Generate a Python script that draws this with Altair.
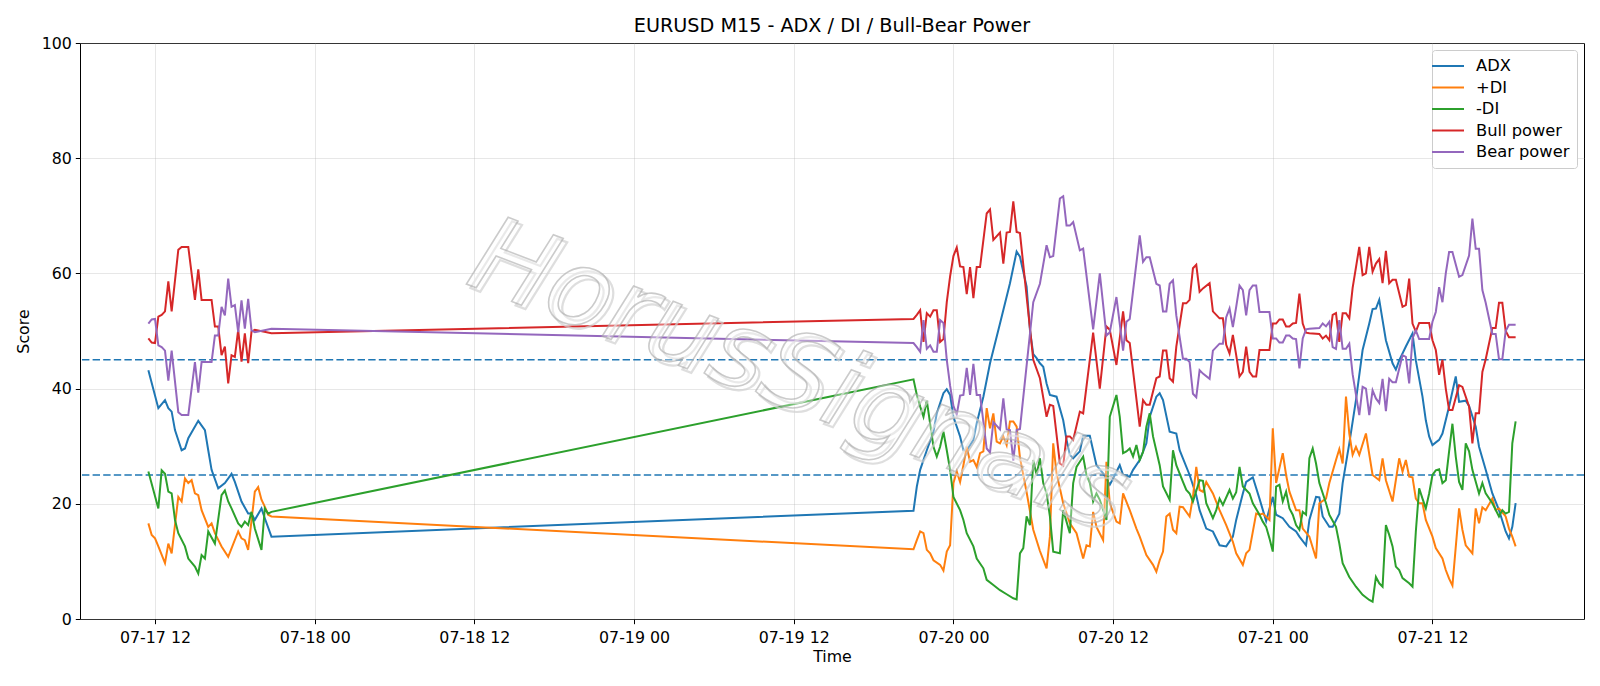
import altair as alt
import pandas as pd

BASE = pd.Timestamp("2025-07-17 00:00:00")
SERIES = ["ADX", "+DI", "-DI", "Bull power", "Bear power"]
COLORS = ["#1f77b4", "#ff7f0e", "#2ca02c", "#d62728", "#9467bd"]
TICK_HOURS = [12, 24, 36, 48, 60, 72, 84, 96, 108]
Y_TICKS = [0, 20, 40, 60, 80, 100]
LEVELS = [45, 25]
TITLE = "EURUSD M15 - ADX / DI / Bull-Bear Power"
WATERMARK = ["HorusSignals"]

# (hours since 07-17 00:00, value)
ADX = [
    (11.5, 43.2), (12.25, 36.6), (12.75, 38.0), (13.0, 36.6), (13.25, 36.0), (13.5, 32.8), (14.0, 29.3), (14.25, 29.6),
    (14.5, 31.4), (15.25, 34.4), (15.75, 32.8), (16.0, 29.3), (16.25, 25.9), (16.75, 22.7), (17.25, 23.6), (17.75, 25.2),
    (18.0, 23.8), (18.5, 20.4), (19.0, 18.3), (19.25, 18.3), (19.5, 17.2), (20.0, 19.2), (20.25, 17.5), (20.75, 14.3),
    (69.0, 18.8), (69.25, 23.0), (69.5, 25.9), (70.0, 29.3), (70.5, 32.5), (70.75, 35.7), (71.25, 39.2), (71.5, 39.9), (71.75, 38.9), (72.0, 35.1),
    (72.5, 31.7), (72.75, 29.3), (73.0, 29.3), (73.5, 31.1), (73.75, 34.0), (74.25, 38.6), (74.75, 44.4), (75.5, 51.3), (76.25, 58.3), (76.75, 63.8),
    (77.0, 62.9), (77.5, 57.7), (77.75, 50.2), (78.0, 46.0), (78.25, 45.3), (78.5, 44.4), (78.75, 43.8), (79.0, 40.9), (79.25, 38.9), (79.75, 38.6),
    (80.25, 34.5), (80.5, 31.1), (80.75, 28.5), (81.0, 27.9), (81.5, 29.1), (81.75, 31.8), (82.25, 31.8), (82.75, 26.7), (83.25, 25.3), (83.75, 23.3),
    (84.0, 24.4), (84.5, 26.7), (84.75, 25.0), (85.25, 24.7), (85.5, 25.9), (86.0, 27.6), (86.5, 30.5), (86.75, 35.1), (87.25, 38.6), (87.5, 39.2),
    (87.75, 38.0), (88.25, 32.5), (88.75, 32.2), (89.0, 29.3), (89.75, 25.0), (90.25, 21.5), (90.5, 18.9), (91.0, 15.7), (91.5, 15.2), (92.0, 12.8),
    (92.5, 12.6), (93.0, 14.3), (93.25, 17.2), (93.75, 21.8), (94.0, 23.8), (94.5, 24.6), (95.0, 20.9), (95.5, 17.0), (96.0, 21.2), (96.25, 18.1),
    (96.75, 17.5), (97.25, 16.0), (97.75, 15.2), (98.0, 14.3), (98.5, 12.8), (98.75, 17.2), (99.25, 21.2), (99.5, 21.1), (99.75, 17.8), (100.25, 16.0),
    (100.5, 16.0), (101.0, 18.3), (101.25, 23.6), (101.75, 30.5), (102.25, 38.0), (102.75, 46.7), (103.25, 51.3), (103.5, 53.8), (103.75, 53.9), (104.0, 55.4),
    (104.25, 51.9), (104.5, 48.4), (105.0, 44.4), (105.25, 43.3), (105.5, 44.9), (106.0, 47.3), (106.5, 49.6), (106.75, 44.9), (107.25, 38.6), (107.5, 34.5),
    (107.75, 31.7), (108.0, 30.2), (108.5, 31.1), (108.75, 32.2), (109.25, 36.9), (109.75, 42.1), (110.0, 37.7), (110.5, 37.9), (110.75, 37.0), (111.25, 33.4),
    (111.5, 29.9), (112.0, 25.9), (112.5, 21.8), (113.0, 18.9), (113.5, 15.2), (113.75, 14.0), (114.0, 16.0), (114.25, 20.1),
]

PLUS_DI = [
    (11.5, 16.6), (11.75, 14.6), (12.0, 14.0), (12.25, 12.6), (12.75, 9.7), (13.0, 13.1), (13.25, 11.4), (13.75, 21.2),
    (14.0, 20.4), (14.25, 24.4), (14.5, 23.6), (14.75, 24.1), (15.0, 21.8), (15.25, 21.5), (15.5, 18.9), (16.0, 16.0),
    (16.25, 16.6), (16.5, 14.9), (17.0, 12.6), (17.5, 10.8), (18.25, 15.2), (18.5, 14.0), (18.75, 13.7), (19.0, 12.0),
    (19.5, 22.1), (19.75, 22.9), (20.0, 20.7), (20.25, 19.5), (20.5, 18.1), (20.75, 17.8),
    (69.0, 12.1), (69.25, 13.7), (69.5, 15.2), (69.75, 14.9), (70.0, 12.0), (70.25, 11.4), (70.5, 10.2), (71.0, 9.4), (71.25, 8.4), (71.5, 11.7),
    (71.75, 12.8), (72.0, 23.6), (72.25, 25.6), (72.5, 23.8), (72.75, 26.7), (73.0, 29.9), (73.25, 27.3), (73.5, 27.6), (73.75, 26.4), (74.0, 28.8),
    (74.25, 29.1), (74.5, 36.6), (74.75, 33.1), (75.0, 35.7), (75.25, 30.8), (75.5, 30.5), (75.75, 31.7), (76.0, 30.2), (76.25, 34.3), (76.5, 34.3),
    (76.75, 33.4), (77.0, 28.0), (77.5, 22.0), (78.0, 15.5), (78.5, 11.8), (79.0, 8.8), (79.25, 14.3), (79.5, 30.5), (79.75, 25.3), (80.25, 20.1),
    (80.75, 16.6), (81.25, 14.9), (81.75, 10.5), (82.0, 12.8), (82.25, 12.6), (82.5, 18.6), (82.75, 16.0), (83.25, 13.7), (83.5, 27.3), (83.75, 20.1),
    (84.25, 16.9), (84.5, 16.6), (84.75, 21.8), (85.25, 18.9), (85.75, 15.7), (86.0, 14.3), (86.5, 11.1), (87.0, 9.4), (87.25, 8.2), (87.5, 10.2),
    (87.75, 11.7), (88.0, 17.8), (88.25, 18.3), (88.5, 15.5), (88.75, 14.9), (89.0, 19.5), (89.25, 19.4), (89.75, 17.8), (90.0, 21.2), (90.25, 26.4),
    (90.5, 22.4), (90.75, 22.1), (91.0, 23.8), (91.5, 21.8), (92.0, 18.9), (92.5, 16.3), (93.0, 13.4), (93.25, 11.4), (93.75, 9.4), (94.0, 11.4),
    (94.25, 12.0), (94.75, 18.3), (95.0, 18.1), (95.25, 18.3), (95.75, 17.2), (96.0, 33.1), (96.25, 23.6), (96.75, 28.8), (97.0, 25.0), (97.25, 22.1),
    (97.75, 18.9), (98.0, 18.9), (98.25, 15.7), (98.75, 14.3), (99.25, 10.5), (99.5, 20.1), (100.0, 20.9), (100.25, 23.6), (100.75, 27.6), (101.0, 29.5),
    (101.25, 27.0), (101.5, 38.6), (101.75, 32.2), (102.0, 28.5), (102.25, 29.9), (102.5, 28.5), (103.0, 32.2), (103.5, 25.0), (104.0, 24.1), (104.25, 27.9),
    (104.5, 24.1), (105.0, 20.4), (105.5, 27.9), (105.75, 25.6), (106.0, 27.6), (106.25, 24.7), (106.5, 24.6), (106.75, 20.9), (107.0, 20.1), (107.25, 20.1),
    (107.5, 17.2), (108.0, 14.3), (108.25, 12.3), (108.75, 10.5), (109.0, 8.5), (109.25, 7.0), (109.5, 5.8), (110.0, 19.2), (110.25, 15.5), (110.5, 12.8),
    (111.0, 11.4), (111.25, 19.2), (111.5, 16.6), (111.75, 19.4), (112.0, 18.9), (112.5, 20.9), (112.75, 18.9), (113.0, 19.2), (113.5, 17.8), (113.75, 15.7),
    (114.0, 14.3), (114.25, 12.6),
]

MINUS_DI = [
    (11.5, 25.6), (12.25, 19.2), (12.5, 25.8), (12.75, 25.2), (13.0, 22.1), (13.25, 21.8), (13.5, 17.2), (13.75, 14.9),
    (14.25, 12.6), (14.5, 10.5), (15.0, 9.1), (15.25, 7.9), (15.5, 11.1), (15.75, 10.5), (16.0, 15.2), (16.5, 13.1),
    (17.0, 21.5), (17.25, 22.3), (17.5, 20.4), (17.75, 19.2), (18.25, 16.6), (18.5, 16.0), (18.75, 16.9), (19.0, 16.3),
    (19.25, 18.6), (19.5, 15.7), (20.0, 12.0), (20.25, 19.2), (20.5, 18.3), (20.75, 18.6),
    (69.0, 41.6), (69.25, 38.9), (69.5, 36.9), (69.75, 35.1), (70.0, 37.9), (70.5, 29.9), (70.75, 28.2), (71.0, 29.9), (71.25, 32.5), (71.5, 29.3),
    (71.75, 25.9), (72.0, 21.2), (72.5, 18.9), (72.75, 17.2), (73.0, 14.9), (73.5, 12.6), (73.75, 10.5), (74.25, 8.8), (74.5, 6.8), (75.0, 5.9),
    (75.5, 5.0), (76.0, 4.3), (76.5, 3.6), (76.75, 3.4), (77.0, 11.4), (77.25, 12.3), (77.5, 17.8), (77.75, 16.3), (78.0, 27.6), (78.25, 25.0),
    (78.5, 27.9), (78.75, 23.6), (79.0, 21.8), (79.25, 17.8), (79.5, 11.7), (80.0, 11.4), (80.25, 18.9), (80.75, 14.9), (81.0, 23.6), (81.25, 26.4),
    (81.75, 28.2), (82.0, 25.0), (82.25, 23.6), (82.5, 20.4), (82.75, 21.8), (83.0, 20.7), (83.5, 17.2), (83.75, 35.1), (84.25, 38.9), (84.5, 35.1),
    (84.75, 28.8), (85.0, 29.1), (85.25, 29.6), (85.5, 28.2), (85.75, 30.2), (86.0, 27.6), (86.25, 29.0), (86.5, 33.4), (86.75, 35.7), (87.0, 31.7),
    (87.5, 26.7), (87.75, 23.0), (88.25, 20.7), (88.5, 29.3), (88.75, 26.7), (89.25, 23.8), (89.5, 22.4), (89.75, 21.8), (90.0, 20.4), (90.5, 24.1),
    (90.75, 24.0), (91.0, 20.1), (91.5, 17.5), (91.75, 18.9), (92.0, 20.9), (92.25, 19.8), (92.75, 22.4), (93.0, 20.9), (93.25, 22.0), (93.5, 26.4),
    (93.75, 23.0), (94.25, 21.8), (94.5, 20.1), (95.0, 18.1), (95.25, 16.9), (95.5, 16.0), (95.75, 14.0), (96.0, 11.7), (96.25, 23.0), (96.5, 23.3),
    (96.75, 20.4), (97.0, 22.1), (97.25, 19.2), (97.5, 18.1), (97.75, 16.3), (98.0, 15.5), (98.25, 18.6), (98.5, 18.1), (98.75, 27.9), (99.0, 29.6),
    (99.25, 27.0), (99.5, 23.6), (100.0, 20.1), (100.25, 18.1), (100.75, 16.0), (101.0, 13.1), (101.25, 9.7), (101.75, 7.3), (102.25, 5.6), (102.75, 4.2),
    (103.25, 3.3), (103.5, 3.0), (103.75, 7.3), (104.0, 6.2), (104.25, 5.6), (104.5, 16.3), (104.75, 14.6), (105.0, 12.6), (105.25, 9.1), (105.5, 8.5),
    (105.75, 7.1), (106.25, 6.2), (106.5, 5.6), (106.75, 15.2), (107.0, 22.7), (107.25, 20.9), (107.5, 19.2), (107.75, 21.8), (108.0, 25.0), (108.25, 25.8),
    (108.5, 26.0), (108.75, 23.6), (109.0, 24.1), (109.25, 29.1), (109.5, 33.9), (109.75, 28.2), (110.0, 23.8), (110.25, 22.4), (110.5, 30.5), (110.75, 29.1),
    (111.0, 25.9), (111.5, 21.8), (111.75, 23.6), (112.0, 21.8), (112.5, 20.1), (113.0, 17.8), (113.25, 18.9), (113.5, 18.3), (113.75, 18.6), (114.0, 30.5),
    (114.25, 34.3),
]

BULL = [
    (11.5, 48.7), (11.75, 48.0), (12.0, 47.9), (12.25, 52.5), (12.5, 52.8), (12.75, 53.4), (13.0, 58.6), (13.25, 53.4),
    (13.75, 64.1), (14.0, 64.6), (14.5, 64.6), (15.0, 55.4), (15.25, 60.7), (15.5, 55.4), (16.25, 55.4), (16.5, 50.8),
    (16.75, 50.8), (17.0, 45.8), (17.25, 47.3), (17.5, 40.9), (17.75, 45.8), (18.0, 45.5), (18.25, 50.2), (18.5, 44.7),
    (18.75, 49.6), (19.0, 44.4), (19.25, 49.9), (19.5, 50.2), (20.75, 49.6),
    (69.0, 52.1), (69.25, 52.8), (69.5, 53.6), (69.75, 48.1), (70.0, 53.1), (70.25, 52.5), (70.5, 53.6), (70.75, 53.6), (71.0, 48.1), (71.25, 48.6),
    (71.5, 55.0), (71.75, 59.5), (72.0, 63.0), (72.25, 64.5), (72.5, 61.2), (72.75, 61.1), (73.0, 56.4), (73.25, 61.1), (73.5, 55.7), (73.75, 61.1),
    (74.0, 61.1), (74.5, 70.4), (74.75, 71.1), (75.0, 65.8), (75.5, 67.1), (75.75, 61.7), (76.0, 67.1), (76.25, 67.2), (76.5, 72.5), (76.75, 67.2),
    (77.0, 67.0), (78.0, 45.0), (78.5, 41.8), (79.0, 35.1), (79.25, 37.2), (79.5, 37.0), (80.0, 27.0), (80.25, 26.6), (80.5, 31.7), (80.75, 31.7),
    (81.0, 31.1), (81.5, 36.0), (81.75, 35.7), (82.5, 49.7), (83.0, 40.0), (83.5, 50.8), (83.75, 50.2), (84.25, 44.1), (84.75, 53.4), (85.0, 48.4),
    (85.25, 47.9), (86.0, 33.4), (86.25, 38.0), (86.5, 37.2), (86.75, 37.2), (87.25, 41.8), (87.5, 42.1), (87.75, 46.6), (88.0, 46.6), (88.25, 41.8),
    (88.5, 41.2), (88.75, 47.3), (89.25, 54.8), (89.5, 54.8), (89.75, 55.4), (90.0, 60.9), (90.25, 61.5), (90.5, 56.8), (90.75, 57.4), (91.25, 58.3),
    (91.5, 53.4), (92.0, 52.2), (92.25, 52.2), (92.5, 47.6), (92.75, 46.1), (93.0, 49.3), (93.25, 45.8), (93.5, 42.1), (93.75, 42.9), (94.0, 47.3),
    (94.25, 42.9), (94.5, 42.1), (94.75, 42.1), (95.0, 46.7), (95.75, 46.7), (96.0, 51.3), (96.25, 51.3), (96.5, 52.0), (96.75, 52.0), (97.0, 50.8),
    (97.25, 50.8), (97.5, 51.3), (97.75, 51.4), (98.0, 56.5), (98.25, 51.3), (98.5, 49.7), (98.75, 49.6), (99.5, 49.5), (99.75, 48.7), (100.0, 49.2),
    (100.25, 48.4), (100.5, 52.8), (100.75, 53.1), (101.0, 48.1), (101.25, 53.1), (101.5, 53.1), (101.75, 52.2), (102.0, 57.5), (102.5, 64.6), (102.75, 59.7),
    (103.0, 60.0), (103.25, 64.6), (103.5, 60.3), (103.75, 61.7), (104.0, 62.5), (104.25, 58.3), (104.5, 63.9), (104.75, 58.3), (105.0, 58.9), (105.25, 58.9),
    (105.75, 54.2), (106.0, 54.5), (106.25, 59.1), (106.5, 51.3), (106.75, 49.9), (107.0, 51.4), (107.75, 51.4), (108.0, 48.4), (108.25, 46.7), (108.5, 42.4),
    (108.75, 45.0), (109.0, 40.0), (109.25, 36.3), (109.5, 36.3), (110.0, 40.6), (110.25, 40.3), (110.75, 36.9), (111.0, 30.5), (111.25, 35.7), (111.5, 35.7),
    (111.75, 42.9), (112.0, 45.1), (112.5, 50.5), (112.75, 50.5), (113.0, 54.9), (113.25, 54.9), (113.5, 50.0), (113.75, 48.9), (114.25, 48.9),
]

BEAR = [
    (11.5, 51.3), (11.75, 52.0), (12.0, 52.1), (12.25, 47.5), (12.5, 47.2), (12.75, 46.6), (13.0, 41.4), (13.25, 46.6),
    (13.75, 35.9), (14.0, 35.4), (14.5, 35.4), (15.0, 44.6), (15.25, 39.3), (15.5, 44.6), (16.25, 44.6), (16.5, 49.2),
    (16.75, 49.2), (17.0, 54.2), (17.25, 52.7), (17.5, 59.1), (17.75, 54.2), (18.0, 54.5), (18.25, 49.8), (18.5, 55.3),
    (18.75, 50.4), (19.0, 55.6), (19.25, 50.1), (19.5, 49.8), (20.75, 50.4),
    (69.0, 47.9), (69.25, 47.2), (69.5, 46.4), (69.75, 51.9), (70.0, 46.9), (70.25, 47.5), (70.5, 46.4), (70.75, 46.4), (71.0, 51.9), (71.25, 51.4),
    (71.5, 45.0), (71.75, 40.5), (72.0, 37.0), (72.25, 35.5), (72.5, 38.8), (72.75, 38.9), (73.0, 43.6), (73.25, 38.9), (73.5, 44.3), (73.75, 38.9),
    (74.0, 38.9), (74.5, 29.6), (74.75, 28.9), (75.0, 34.2), (75.5, 32.9), (75.75, 38.3), (76.0, 32.9), (76.25, 32.8), (76.5, 27.5), (76.75, 32.8),
    (77.0, 33.0), (78.0, 55.0), (78.5, 58.2), (79.0, 64.9), (79.25, 62.8), (79.5, 63.0), (80.0, 73.0), (80.25, 73.4), (80.5, 68.3), (80.75, 68.3),
    (81.0, 68.9), (81.5, 64.0), (81.75, 64.3), (82.5, 50.3), (83.0, 60.0), (83.5, 49.2), (83.75, 49.8), (84.25, 55.9), (84.75, 46.6), (85.0, 51.6),
    (85.25, 52.1), (86.0, 66.6), (86.25, 62.0), (86.5, 62.8), (86.75, 62.8), (87.25, 58.2), (87.5, 57.9), (87.75, 53.4), (88.0, 53.4), (88.25, 58.2),
    (88.5, 58.8), (88.75, 52.7), (89.25, 45.2), (89.5, 45.2), (89.75, 44.6), (90.0, 39.1), (90.25, 38.5), (90.5, 43.2), (90.75, 42.6), (91.25, 41.7),
    (91.5, 46.6), (92.0, 47.8), (92.25, 47.8), (92.5, 52.4), (92.75, 53.9), (93.0, 50.7), (93.25, 54.2), (93.5, 57.9), (93.75, 57.1), (94.0, 52.7),
    (94.25, 57.1), (94.5, 57.9), (94.75, 57.9), (95.0, 53.3), (95.75, 53.3), (96.0, 48.7), (96.25, 48.7), (96.5, 48.0), (96.75, 48.0), (97.0, 49.2),
    (97.25, 49.2), (97.5, 48.7), (97.75, 48.6), (98.0, 43.5), (98.25, 48.7), (98.5, 50.3), (98.75, 50.4), (99.5, 50.5), (99.75, 51.3), (100.0, 50.8),
    (100.25, 51.6), (100.5, 47.2), (100.75, 46.9), (101.0, 51.9), (101.25, 46.9), (101.5, 46.9), (101.75, 47.8), (102.0, 42.5), (102.5, 35.4), (102.75, 40.3),
    (103.0, 40.0), (103.25, 35.4), (103.5, 39.7), (103.75, 38.3), (104.0, 37.5), (104.25, 41.7), (104.5, 36.1), (104.75, 41.7), (105.0, 41.1), (105.25, 41.1),
    (105.75, 45.8), (106.0, 45.5), (106.25, 40.9), (106.5, 48.7), (106.75, 50.1), (107.0, 48.6), (107.75, 48.6), (108.0, 51.6), (108.25, 53.3), (108.5, 57.6),
    (108.75, 55.0), (109.0, 60.0), (109.25, 63.7), (109.5, 63.7), (110.0, 59.4), (110.25, 59.7), (110.75, 63.1), (111.0, 69.5), (111.25, 64.3), (111.5, 64.3),
    (111.75, 57.1), (112.0, 54.9), (112.5, 49.5), (112.75, 49.5), (113.0, 45.1), (113.25, 45.1), (113.5, 50.0), (113.75, 51.1), (114.25, 51.1),
]


def stamp(h):
    return BASE + pd.to_timedelta(h, unit="h")


def dt(h):
    t = stamp(h)
    return alt.DateTime(year=t.year, month=t.month, date=t.day,
                        hours=t.hour, minutes=t.minute, seconds=t.second)


rows = []
for name, pts in zip(SERIES, [ADX, PLUS_DI, MINUS_DI, BULL, BEAR]):
    for h, v in pts:
        rows.append({"time": stamp(h).strftime("%Y-%m-%dT%H:%M:%S"), "value": v, "series": name})
df = pd.DataFrame(rows)

all_h = [h for pts in [ADX, PLUS_DI, MINUS_DI, BULL, BEAR] for h, _ in pts]
hmin, hmax = min(all_h), max(all_h)
pad = 0.05 * (hmax - hmin)
x_scale = alt.Scale(domain=[dt(hmin - pad), dt(hmax + pad)])
y_scale = alt.Scale(domain=[0, 100], nice=False, zero=False)

FONT = "DejaVu Sans"
FS = 15.8

levels = alt.Chart(pd.DataFrame({"level": LEVELS})).mark_rule(
    color="#1f77b4", strokeDash=[7.4, 3.2], strokeWidth=1.5
).encode(y=alt.Y("level:Q", scale=y_scale))

lines = alt.Chart(df).mark_line(strokeWidth=2).encode(
    x=alt.X("time:T", scale=x_scale, axis=alt.Axis(
        values=[dt(h) for h in TICK_HOURS], format="%m-%d %H", title="Time",
        labelFlush=False, labelOverlap=False)),
    y=alt.Y("value:Q", scale=y_scale, axis=alt.Axis(values=Y_TICKS, title="Score")),
    color=alt.Color("series:N", sort=SERIES, scale=alt.Scale(domain=SERIES, range=COLORS),
                    legend=alt.Legend(
                        title=None, orient="top-right", offset=7, symbolType="M-2,0L2,0",
                        symbolSize=256, symbolStrokeWidth=2, labelFontSize=16.3, labelFont=FONT,
                        labelColor="black", labelOffset=19, rowPadding=3.5, padding=7,
                        strokeColor="#cccccc", fillColor="white", cornerRadius=3)),
)

wm_df = pd.DataFrame({"wm": WATERMARK})
wm_shadow = alt.Chart(wm_df).mark_text(
    fontSize=106, font=FONT, fontStyle="italic", angle=21, align="center", baseline="middle",
    fillOpacity=0.0, stroke="#d0d0d0", strokeOpacity=0.7, strokeWidth=2.2
).encode(text="wm:N", x=alt.value(722), y=alt.value(338))
wm = alt.Chart(wm_df).mark_text(
    fontSize=106, font=FONT, fontStyle="italic", angle=21, align="center", baseline="middle",
    fill="white", fillOpacity=0.35, stroke="#a8a8a8", strokeOpacity=0.6, strokeWidth=1.6
).encode(text="wm:N", x=alt.value(718), y=alt.value(334))

chart = alt.layer(levels, lines, wm_shadow, wm).properties(
    width=1504, height=576,
    title=alt.TitleParams(TITLE, fontSize=19.2, fontWeight="normal", font=FONT,
                          anchor="middle", offset=-1, color="black"),
    autosize=alt.AutoSizeParams(type="none"),
    padding={"left": 80, "top": 43, "right": 16, "bottom": 67},
    background="white",
).configure_view(
    stroke="black", strokeWidth=1
).configure_axis(
    domain=False, labelFont=FONT, titleFont=FONT, labelFontSize=FS, titleFontSize=FS,
    labelColor="black", titleColor="black", titleFontWeight="normal",
    tickColor="black", tickSize=4.7, tickWidth=1,
    gridColor="#b0b0b0", gridOpacity=0.3, gridWidth=1,
).configure_axisX(titlePadding=4, labelPadding=6.5).configure_axisY(titlePadding=10, labelPadding=4)

chart.save("out.html", embed_options={"renderer": "svg", "actions": False})
